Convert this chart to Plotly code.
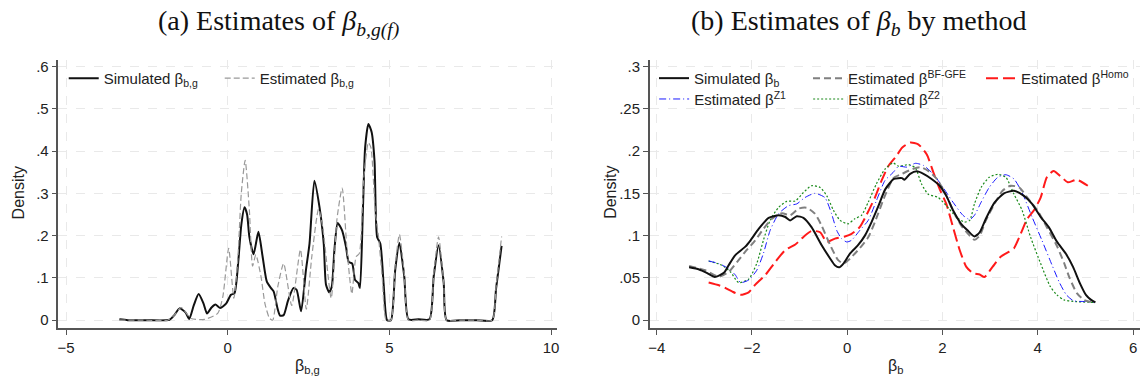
import plotly.graph_objects as go

W, H = 1146, 383

# ---------------- Panel (a) data ----------------
sim_bg_x = [-3.35, -3.09, -2.5, -1.80, -1.65, -1.49, -1.30, -1.19, -1.05, -0.90, -0.75, -0.64, -0.50, -0.38,
            -0.23, -0.05, 0.10, 0.21, 0.33, 0.42, 0.52, 0.60, 0.67, 0.80, 0.95, 1.08, 1.21, 1.34, 1.42, 1.55,
            1.62, 1.73, 1.86, 2.03, 2.13, 2.27, 2.42, 2.53, 2.68, 2.84, 2.97, 3.04, 3.14, 3.22, 3.30, 3.40,
            3.54, 3.66, 3.74, 3.85, 3.94, 4.04, 4.09, 4.18, 4.25, 4.35, 4.45, 4.54, 4.62, 4.72, 4.82, 4.93,
            5.05, 5.18, 5.31, 5.46, 5.59, 5.90, 6.24, 6.37, 6.52, 6.68, 6.77, 7.20, 7.70, 8.18, 8.30, 8.47]
sim_bg_y = [0.002, 0.0, 0.0, 0.001, 0.012, 0.028, 0.018, 0.003, 0.035, 0.062, 0.040, 0.016, 0.030, 0.037,
            0.029, 0.039, 0.060, 0.064, 0.142, 0.225, 0.267, 0.250, 0.197, 0.156, 0.209, 0.150, 0.091, 0.076,
            0.068, 0.025, 0.011, 0.012, 0.045, 0.076, 0.072, 0.021, 0.119, 0.181, 0.330, 0.267, 0.181, 0.084,
            0.066, 0.080, 0.166, 0.230, 0.212, 0.173, 0.138, 0.134, 0.095, 0.088, 0.076, 0.259, 0.408, 0.464,
            0.445, 0.377, 0.197, 0.181, 0.088, 0.0, 0.0, 0.119, 0.183, 0.103, 0.002, 0.002, 0.002, 0.103,
            0.177, 0.088, 0.0, 0.0, 0.0, 0.0, 0.075, 0.176]

est_bg_x = [-3.35, -2.6, -1.86, -1.65, -1.44, -1.13, -0.72, -0.31, -0.15, 0.03, 0.19, 0.31, 0.42, 0.54, 0.67,
            0.77, 0.87, 1.03, 1.15, 1.29, 1.39, 1.55, 1.73, 1.98, 2.25, 2.43, 2.60, 2.81, 2.94, 3.20, 3.38,
            3.54, 3.69, 3.84, 3.97, 4.07, 4.20, 4.35, 4.43, 4.56, 4.66, 4.78, 4.90, 5.05, 5.18, 5.31, 5.46,
            5.59, 5.90, 6.24, 6.37, 6.52, 6.68, 6.77, 7.20, 7.70, 8.18, 8.30, 8.47]
est_bg_y = [0.0, 0.0, 0.0, 0.012, 0.030, 0.004, 0.002, 0.016, 0.056, 0.170, 0.052, 0.142, 0.300, 0.378,
            0.260, 0.128, 0.155, 0.103, 0.040, 0.005, 0.0, 0.080, 0.134, 0.035, 0.167, 0.026, 0.150, 0.263,
            0.220, 0.052, 0.240, 0.3125, 0.166, 0.0625, 0.150, 0.158, 0.330, 0.420, 0.408, 0.260, 0.200,
            0.100, 0.0, 0.0, 0.130, 0.203, 0.110, 0.0, 0.0, 0.0, 0.110, 0.197, 0.090, 0.0, 0.0, 0.0, 0.0,
            0.080, 0.198]

# ---------------- Panel (b) data ----------------
sim_b_x = [-3.32, -3.11, -2.95, -2.78, -2.59, -2.49, -2.35, -2.14, -2.03, -1.86, -1.65, -1.44, -1.30, -1.20,
           -1.06, -0.92, -0.75, -0.54, -0.36, -0.26, -0.17, -0.08, 0.06, 0.23, 0.37, 0.51, 0.65, 0.80, 0.98,
           1.15, 1.20, 1.32, 1.46, 1.60, 1.77, 1.94, 2.08, 2.22, 2.39, 2.53, 2.67, 2.78, 2.91, 3.09, 3.29,
           3.50, 3.71, 3.88, 4.06, 4.23, 4.40, 4.59, 4.74, 4.89, 5.01, 5.12, 5.21]
sim_b_y = [0.0625, 0.060, 0.056, 0.051, 0.056, 0.065, 0.077, 0.087, 0.0945, 0.108, 0.121, 0.124, 0.122, 0.118,
           0.123, 0.121, 0.110, 0.089, 0.073, 0.065, 0.0625, 0.067, 0.079, 0.089, 0.100, 0.116, 0.1345, 0.155,
           0.167, 0.168, 0.166, 0.173, 0.176, 0.173, 0.167, 0.159, 0.147, 0.130, 0.114, 0.106, 0.099, 0.104,
           0.120, 0.139, 0.150, 0.153, 0.147, 0.1375, 0.122, 0.110, 0.093, 0.0785, 0.063, 0.043, 0.030,
           0.024, 0.021]

bfgfe_x = [-3.32, -2.98, -2.70, -2.49, -2.31, -2.14, -1.93, -1.76, -1.58, -1.37, -1.20, -1.02, -0.85, -0.68,
           -0.54, -0.36, -0.19, -0.08, 0.06, 0.26, 0.44, 0.58, 0.79, 0.97, 1.15, 1.36, 1.53, 1.70, 1.88, 2.05,
           2.22, 2.39, 2.57, 2.67, 2.78, 2.91, 3.09, 3.26, 3.43, 3.61, 3.78, 3.99, 4.19, 4.40, 4.55, 4.66,
           4.82, 4.97, 5.16]
bfgfe_y = [0.064, 0.059, 0.0515, 0.057, 0.069, 0.081, 0.0945, 0.108, 0.120, 0.1265, 0.124, 0.132, 0.133,
           0.126, 0.112, 0.089, 0.071, 0.067, 0.073, 0.085, 0.098, 0.116, 0.147, 0.168, 0.173, 0.1785, 0.181,
           0.1765, 0.167, 0.151, 0.130, 0.112, 0.100, 0.095, 0.100, 0.118, 0.1375, 0.153, 0.159, 0.157,
           0.145, 0.130, 0.110, 0.088, 0.068, 0.051, 0.032, 0.024, 0.021]

homo_x = [-2.91, -2.63, -2.42, -2.24, -2.07, -1.93, -1.72, -1.51, -1.30, -1.09, -0.92, -0.75, -0.57, -0.43,
          -0.26, -0.05, 0.09, 0.26, 0.40, 0.58, 0.72, 0.86, 1.03, 1.15, 1.32, 1.49, 1.67, 1.81, 1.94, 2.08,
          2.22, 2.36, 2.50, 2.64, 2.78, 2.88, 3.05, 3.22, 3.40, 3.50, 3.64, 3.78, 3.92, 4.06, 4.19, 4.33,
          4.52, 4.63, 4.82, 5.05]
homo_y = [0.0445, 0.040, 0.034, 0.030, 0.033, 0.042, 0.0535, 0.069, 0.083, 0.0895, 0.0985, 0.1055, 0.104,
          0.0925, 0.0965, 0.099, 0.102, 0.110, 0.124, 0.145, 0.165, 0.182, 0.194, 0.204, 0.210, 0.208, 0.196,
          0.1745, 0.155, 0.1375, 0.110, 0.083, 0.063, 0.0555, 0.054, 0.051, 0.063, 0.075, 0.081, 0.085,
          0.102, 0.120, 0.130, 0.145, 0.169, 0.1765, 0.168, 0.163, 0.166, 0.159]

z1_x = [-2.91, -2.70, -2.49, -2.35, -2.24, -2.07, -1.90, -1.76, -1.62, -1.44, -1.23, -1.06, -0.89, -0.68,
        -0.47, -0.33, -0.22, -0.12, -0.01, 0.09, 0.26, 0.44, 0.61, 0.79, 0.96, 1.08, 1.25, 1.43, 1.60, 1.81,
        2.01, 2.22, 2.43, 2.57, 2.67, 2.81, 2.98, 3.16, 3.33, 3.50, 3.67, 3.88, 4.09, 4.30, 4.45, 4.60,
        4.75, 5.00, 5.18]
z1_y = [0.070, 0.067, 0.061, 0.0535, 0.0445, 0.0475, 0.059, 0.079, 0.106, 0.126, 0.1355, 0.1375, 0.145,
        0.150, 0.145, 0.126, 0.106, 0.0965, 0.0925, 0.0945, 0.106, 0.118, 0.141, 0.165, 0.1745, 0.182, 0.181,
        0.1855, 0.183, 0.1725, 0.157, 0.1395, 0.124, 0.119, 0.124, 0.1395, 0.157, 0.169, 0.172, 0.167,
        0.151, 0.122, 0.094, 0.065, 0.045, 0.030, 0.023, 0.022, 0.021]

z2_x = [-2.91, -2.63, -2.45, -2.28, -2.07, -1.90, -1.76, -1.62, -1.44, -1.27, -1.09, -0.92, -0.75, -0.57,
        -0.43, -0.29, -0.15, 0.02, 0.16, 0.30, 0.44, 0.61, 0.79, 0.96, 1.08, 1.29, 1.43, 1.56, 1.70, 1.91,
        2.08, 2.29, 2.46, 2.57, 2.67, 2.81, 2.98, 3.16, 3.33, 3.50, 3.67, 3.85, 4.06, 4.26, 4.40, 4.55,
        4.80, 5.18]
z2_y = [0.070, 0.065, 0.057, 0.0445, 0.0485, 0.067, 0.0945, 0.118, 0.1335, 0.1405, 0.141, 0.151, 0.159,
        0.157, 0.147, 0.130, 0.118, 0.114, 0.120, 0.124, 0.1395, 0.161, 0.1785, 0.186, 0.182, 0.184, 0.180,
        0.161, 0.149, 0.145, 0.1355, 0.122, 0.116, 0.118, 0.1375, 0.157, 0.169, 0.1725, 0.169, 0.149,
        0.130, 0.098, 0.067, 0.040, 0.030, 0.024, 0.022, 0.021]

# ticks
a_xticks = [-5, 0, 5, 10]
a_yticks = [0, 0.1, 0.2, 0.3, 0.4, 0.5, 0.6]
a_yticktext = ["0", ".1", ".2", ".3", ".4", ".5", ".6"]
b_xticks = [-4, -2, 0, 2, 4, 6]
b_yticks = [0, 0.05, 0.1, 0.15, 0.2, 0.25, 0.3]
b_yticktext = ["0", ".05", ".1", ".15", ".2", ".25", ".3"]


def px(x):
    return x / W


def py(y):
    return 1 - y / H


SANS = "Liberation Sans, Arial, sans-serif"
SERIF = "Liberation Serif, Times New Roman, serif"
LW = dict(shape="spline", smoothing=0.6)
LEGFONT = dict(family=SANS, size=15, color="#222222")

fig = go.Figure()

fig.add_trace(go.Scatter(x=sim_bg_x, y=sim_bg_y, mode="lines", name="Simulated β<sub>b,g</sub>",
                         line=dict(color="#111111", width=2, **LW), xaxis="x", yaxis="y",
                         legend="legend", legendwidth=111))
fig.add_trace(go.Scatter(x=est_bg_x, y=est_bg_y, mode="lines", name="Estimated β<sub>b,g</sub>",
                         line=dict(color="#999999", width=1.2, dash="6px,3px", **LW), xaxis="x", yaxis="y",
                         legend="legend"))

fig.add_trace(go.Scatter(x=homo_x, y=homo_y, mode="lines", name="Estimated β<sup>Homo</sup>",
                         line=dict(color="#ff1a1a", width=2, dash="12px,5px", **LW), xaxis="x2", yaxis="y2",
                         showlegend=False))
fig.add_trace(go.Scatter(x=z2_x, y=z2_y, mode="lines", name="Estimated β<sup>Z2</sup>",
                         line=dict(color="#1a8a1a", width=1.2, dash="2px,2px", **LW), xaxis="x2", yaxis="y2",
                         showlegend=False))
fig.add_trace(go.Scatter(x=z1_x, y=z1_y, mode="lines", name="Estimated β<sup>Z1</sup>",
                         line=dict(color="#1a1aff", width=1, dash="7px,3px,1px,3px", **LW), xaxis="x2",
                         yaxis="y2", showlegend=False))
fig.add_trace(go.Scatter(x=bfgfe_x, y=bfgfe_y, mode="lines", name="Estimated β<sup>BF-GFE</sup>",
                         line=dict(color="#808080", width=2, dash="7px,4px", **LW), xaxis="x2", yaxis="y2",
                         showlegend=False))
fig.add_trace(go.Scatter(x=sim_b_x, y=sim_b_y, mode="lines", name="Simulated β<sub>b</sub>",
                         line=dict(color="#111111", width=2, **LW), xaxis="x2", yaxis="y2", showlegend=False))

# legend entries for panel (b), in the reference order (two rows)
leg_b = [
    ("Simulated β<sub>b</sub>", dict(color="#111111", width=2), "legend2", 109),
    ("Estimated β<sup>BF-GFE</sup>", dict(color="#808080", width=2, dash="7px,4px"), "legend2", 128),
    ("Estimated β<sup>Homo</sup>", dict(color="#ff1a1a", width=2, dash="12px,5px"), "legend2", 120),
    ("Estimated β<sup>Z1</sup>", dict(color="#1a1aff", width=1, dash="7px,3px,1px,3px"), "legend3", 109),
    ("Estimated β<sup>Z2</sup>", dict(color="#1a8a1a", width=1.2, dash="2px,2px"), "legend3", 120),
]
for name, ln, lg, lw in leg_b:
    fig.add_trace(go.Scatter(x=[None], y=[None], mode="lines", name=name, line=ln, xaxis="x2", yaxis="y2",
                             legend=lg, legendwidth=lw))

grid = dict(showgrid=True, gridcolor="#e9e9e9", gridwidth=1, griddash="dash", zeroline=False,
            showline=True, linecolor="#555555", linewidth=1.6, ticks="outside", ticklen=5,
            tickcolor="#555555", tickwidth=1.2, tickfont=dict(family=SANS, size=15, color="#222222"))

ydom = [py(328.3), py(58)]
fig.update_layout(
    width=W, height=H, margin=dict(l=0, r=0, t=0, b=0),
    paper_bgcolor="white", plot_bgcolor="white",
    xaxis=dict(domain=[px(56.7), px(557)], range=[-5.234, 10.17], tickvals=a_xticks, anchor="y", **grid),
    yaxis=dict(domain=ydom, range=[-0.0178, 0.6164], tickvals=a_yticks, ticktext=a_yticktext,
               anchor="x", **grid),
    xaxis2=dict(domain=[px(650.7), px(1143)], range=[-4.144, 6.146], tickvals=b_xticks, anchor="y2", **grid),
    yaxis2=dict(domain=ydom, range=[-0.0089, 0.3082], tickvals=b_yticks, ticktext=b_yticktext,
                anchor="x2", **grid),
    legend=dict(orientation="h", x=px(62), y=py(77), xanchor="left", yanchor="middle",
                bgcolor="rgba(0,0,0,0)", font=LEGFONT, itemwidth=30),
    legend2=dict(orientation="h", x=px(655), y=py(77), xanchor="left", yanchor="middle",
                 bgcolor="rgba(0,0,0,0)", font=LEGFONT, itemwidth=30),
    legend3=dict(orientation="h", x=px(655), y=py(98), xanchor="left", yanchor="middle",
                 bgcolor="rgba(0,0,0,0)", font=LEGFONT, itemwidth=30),
    showlegend=True,
)

ann = [
    dict(text="(a) Estimates of <i>β</i><sub><i>b,g(f)</i></sub>", x=px(278), y=py(21),
         font=dict(family=SERIF, size=28, color="#111111")),
    dict(text="(b) Estimates of <i>β</i><sub><i>b</i></sub> by method", x=px(861), y=py(21),
         font=dict(family=SERIF, size=28, color="#111111")),
    dict(text="Density", x=px(17), y=py(192), textangle=-90, font=dict(family=SANS, size=16, color="#222222")),
    dict(text="Density", x=px(611), y=py(192), textangle=-90, font=dict(family=SANS, size=16, color="#222222")),
    dict(text="β<sub>b,g</sub>", x=px(307), y=py(367), font=dict(family=SANS, size=16, color="#222222")),
    dict(text="β<sub>b</sub>", x=px(897), y=py(367), font=dict(family=SANS, size=16, color="#222222")),
]
for a in ann:
    a.update(xref="paper", yref="paper", showarrow=False, xanchor="center", yanchor="middle")
    fig.add_annotation(**a)

fig.write_html("out.html")
